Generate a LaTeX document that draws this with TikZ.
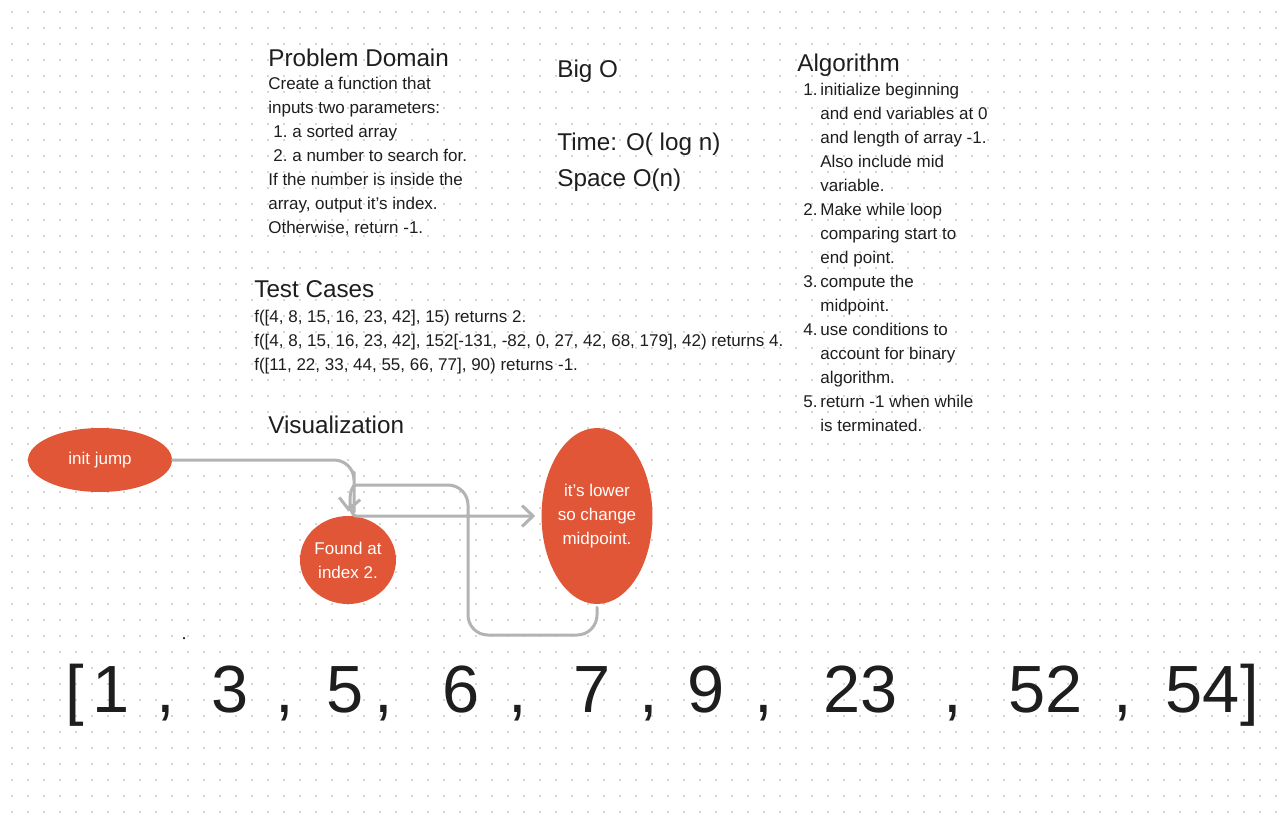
\documentclass[tikz,border=0pt]{standalone}
\usepackage{fontspec}
\setmainfont{Liberation Sans}
\usepackage{tikz}
\usetikzlibrary{arrows.meta, shapes.geometric}

\definecolor{inkdark}{HTML}{1E1E1E}
\definecolor{blobred}{HTML}{E05636}
\definecolor{wiregray}{HTML}{B3B3B3}
\definecolor{griddot}{HTML}{D6D6D6}

\newcommand{\bodysize}{\fontsize{9.67}{13.66}\selectfont}
\newcommand{\headsize}{\fontsize{13.8}{16.6}\selectfont}
\newcommand{\arraysize}{\fontsize{38}{44}\selectfont}

\tikzset{
  heading/.style={anchor=base west, inner sep=0pt, font=\headsize, text=inkdark},
  bodyline/.style={anchor=base west, inner sep=0pt, font=\bodysize, text=inkdark},
  blob/.style={ellipse, fill=blobred, text=white, inner sep=0pt, align=center, font=\bodysize},
  wire/.style={draw=wiregray, line width=0.06cm, line cap=round, line join=round, rounded corners=0.4cm, -{Straight Barb[length=0.22cm, width=0.42cm]}},
  cell/.style={anchor=base, inner sep=0pt, font=\arraysize, text=inkdark}
}

\begin{document}
\begin{tikzpicture}[x=0.02cm, y=-0.02cm]
  % canvas and dot grid
  \useasboundingbox[fill=white] (0,0) rectangle (1286,826);
  \foreach \row in {0,...,50}
    \draw[griddot, line width=0.04cm, dash pattern=on 0.04cm off 0.28cm] (11,{12+16*\row}) -- (1286,{12+16*\row});

  % Problem domain
  \node[heading] (pd) at (268,66) {Problem Domain};
  \foreach \x/\y/\t [count=\k] in {268/89.5/Create a function that, 268/113.5/inputs two parameters:,
      273/137.5/1., 292/137.5/a sorted array, 273/161.5/2., 292/161.5/a number to search for.,
      268/185.5/If the number is inside the, 268/209.5/{array, output it’s index.}, 268/233.5/{Otherwise, return -1.}}
    \node[bodyline] (pd\k) at (\x,\y) {\t};

  % Big O
  \node[heading] (bigo) at (557,77) {Big O};
  \node[heading] (time) at (557,150) {Time: O( log n)};
  \node[heading] (space) at (557,186) {Space O(n)};

  % Algorithm
  \node[heading] (alg) at (797,71) {Algorithm};
  \foreach \n/\t [count=\k from 0] in {1./initialize beginning, /and end variables at 0, /and length of array -1.,
      /Also include mid, /variable., 2./Make while loop, /comparing start to, /end point.,
      3./compute the, /midpoint., 4./use conditions to, /account for binary, /algorithm.,
      5./return -1 when while, /is terminated.} {
    \node[bodyline] (algn\k) at (803,{95+24*\k}) {\n};
    \node[bodyline] (algt\k) at (820,{95+24*\k}) {\t};
  }

  % Test cases
  \node[heading] (tc) at (254,297.5) {Test Cases};
  \node[bodyline] (tc1) at (254,322) {f([4, 8, 15, 16, 23, 42], 15) returns 2.};
  \node[bodyline] (tc2) at (254,346) {f([4, 8, 15, 16, 23, 42], 152[-131, -82, 0, 27, 42, 68, 179], 42) returns 4.};
  \node[bodyline] (tc3) at (254,370) {f([11, 22, 33, 44, 55, 66, 77], 90) returns -1.};

  % Visualization
  \node[heading] (vis) at (268,433.5) {Visualization};
  \node[blob, minimum width=2.88cm, minimum height=1.28cm] (init) at (100,460) {init jump};
  \node[blob, minimum width=1.92cm, minimum height=1.76cm] (found) at (348,560) {Found at\\index 2.};
  \node[blob, minimum width=2.18cm, minimum height=3.52cm] (lower) at (597,516) {it’s lower\\so change\\midpoint.};

  \draw[wire, shorten >=0.08cm] (init.east) -- (354,460) -- (354,492)
    .. controls (354,502) and (349,506) .. (found.north);
  \draw[wire, shorten <=0.06cm, shorten >=0.12cm] (lower.south) -- (597,635) -- (468,635) -- (468,485) -- (376,485)
    .. controls (348,485) and (348,516) .. (376,516) -- (lower.west);

  % the array
  \fill[inkdark] (184,638) circle (0.025cm);
  \foreach \x/\t [count=\k] in {75/{[}, 111/1, 166/{,}, 230/3, 285/{,}, 345/5, 384/{,}, 461/6, 518/{,},
      592/7, 649/{,}, 706/9, 764/{,}, 861/23, 953/{,}, 1046/52, 1123/{,}, 1203/54, 1250/{]}}
    \node[cell] (cell\k) at (\x,712) {\t};
\end{tikzpicture}
\end{document}
